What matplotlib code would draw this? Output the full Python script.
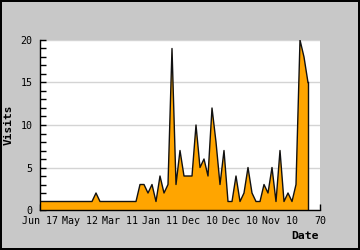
import numpy as np
import matplotlib
matplotlib.use("Agg")
import matplotlib.pyplot as plt
from matplotlib.ticker import MultipleLocator

# Data (one value per step along the x axis)
visits = [1, 1, 1, 1, 1, 1, 1, 1, 1, 1, 1, 1, 1, 1,
          2,
          1, 1, 1, 1, 1, 1, 1, 1, 1, 1,
          3, 3, 2, 3, 1, 4, 2, 3, 19, 3, 7, 4, 4, 4, 10, 5, 6, 4, 12, 8, 3, 7,
          1, 1, 4, 1, 2, 5, 2, 1, 1, 3, 2, 5, 1, 7, 1, 2, 1, 3, 20, 18, 15]
tick_positions = [0, 10, 20, 30, 40, 50, 60, 70]
tick_labels = ["Jun 17", "May 12", "Mar 11", "Jan 11", "Dec 10", "Dec 10", "Nov 10", "70"]
y_ticks = [0, 5, 10, 15, 20]

x = np.arange(len(visits))

fig = plt.figure(figsize=(3.6, 2.5), dpi=100)
fig.patch.set_facecolor("#c8c8c8")
fig.patch.set_edgecolor("black")
fig.patch.set_linewidth(1.5)

ax = fig.add_axes([40/360, 40/250, 280/360, 170/250])
ax.set_facecolor("white")

ax.fill_between(x, visits, 0, facecolor="#ffa500", edgecolor="none", zorder=2)
ax.plot(x, visits, color="#111111", linewidth=1.0, zorder=3)
ax.plot([x[-1], x[-1]], [0, visits[-1]], color="#111111", linewidth=1.0, zorder=3)

ax.set_xlim(0, 70)
ax.set_ylim(0, 20)
ax.set_xticks(tick_positions)
ax.set_xticklabels(tick_labels)
ax.set_yticks(y_ticks)
ax.yaxis.set_minor_locator(MultipleLocator(1))

ax.grid(axis="y", which="major", color="#d4d4d4", linewidth=1.0, zorder=1)
ax.set_axisbelow(True)

for s in ["top", "right"]:
    ax.spines[s].set_visible(False)
for s in ["left", "bottom"]:
    ax.spines[s].set_color("black")
    ax.spines[s].set_linewidth(1.0)
    ax.spines[s].set_zorder(4)

mono = "DejaVu Sans Mono"
ax.tick_params(axis="both", which="both", direction="in", colors="black", width=1.0)
ax.tick_params(axis="y", which="major", length=4, pad=5.5, labelsize=7.2)
ax.tick_params(axis="y", which="minor", length=4)
ax.tick_params(axis="x", which="major", length=4, pad=4, labelsize=7.2)
for lbl in ax.get_xticklabels() + ax.get_yticklabels():
    lbl.set_fontfamily(mono)

fig.text(9/360, 1 - 125/250, "Visits", rotation=90, ha="center", va="center",
         fontfamily=mono, fontweight="bold", fontsize=8)
fig.text(319/360, 1 - 236/250, "Date", ha="right", va="center",
         fontfamily=mono, fontweight="bold", fontsize=8.2)

fig.savefig("out.png", dpi=100, facecolor=fig.get_facecolor(), edgecolor=fig.get_edgecolor())
